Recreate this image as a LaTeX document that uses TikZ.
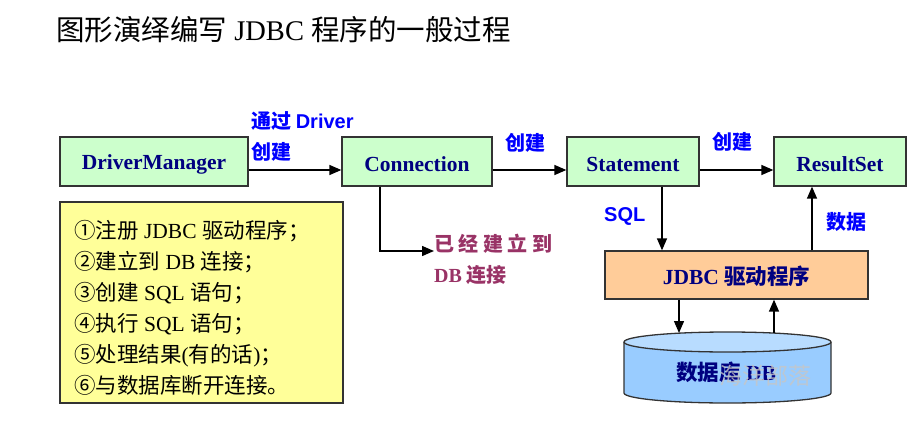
\documentclass[tikz,border=0pt]{standalone}
\usepackage{fontspec}
\setmainfont{Liberation Serif}
\newfontfamily\cjk{Noto Sans CJK SC}
\newfontfamily\lsans{Liberation Sans}
\newcommand\zh[1]{{\cjk #1}}
\usetikzlibrary{arrows.meta}
\definecolor{boxgreen}{HTML}{CCFFCC}
\definecolor{boxtext}{HTML}{000080}
\definecolor{lblblue}{HTML}{0000FF}
\definecolor{estcol}{HTML}{993366}
\definecolor{noteyellow}{HTML}{FFFF99}
\definecolor{drvorange}{HTML}{FFCC99}
\definecolor{dbblue}{HTML}{99CCFF}
\definecolor{dbtop}{HTML}{B8DCFF}
\definecolor{edge}{HTML}{333333}
\tikzset{
  objbox/.style={draw=edge, line width=1.3pt, fill=boxgreen, text=boxtext,
    font=\bfseries\fontsize{21.5}{21.5}\selectfont, minimum height=49pt, inner sep=0pt},
  objtext/.style={inner sep=0pt, text=boxtext, font=\bfseries\fontsize{21.5}{21.5}\selectfont},
  flow/.style={-{Triangle[length=12pt,width=10pt]}, line width=1.4pt},
  lbl/.style={text=lblblue, font=\cjk\bfseries\fontsize{20}{24}\selectfont, inner sep=0pt, anchor=west},
}
\begin{document}
\begin{tikzpicture}[x=1pt,y=-1pt]
\useasboundingbox (0,0) rectangle (912,425);
% title
\node[anchor=west, inner sep=0pt, font=\fontsize{28.5}{28.5}\selectfont] (title) at (56,30)
  {\zh{图形演绎编写} JDBC \zh{程序的一般过程}};
% object boxes
\node[objbox, minimum width=188pt] (dm) at (154,161.5) {};
\node[objbox, minimum width=150pt] (conn) at (417,161.5) {};
\node[objbox, minimum width=132pt] (stmt) at (633,161.5) {};
\node[objbox, minimum width=132pt] (rs) at (840,161.5) {};
\node[objtext] (dmt) at ([yshift=-3pt]dm.center) {DriverManager};
\node[objtext] (connt) at ([yshift=-3pt]conn.center) {Connection};
\node[objtext] (stmtt) at ([yshift=-3pt]stmt.center) {Statement};
\node[objtext] (rst) at ([yshift=-3pt]rs.center) {ResultSet};
% horizontal arrows
\draw[flow] ([yshift=-8.5pt]dm.east) -- ([yshift=-8.5pt]conn.west);
\draw[flow] ([yshift=-8.5pt]conn.east) -- ([yshift=-8.5pt]stmt.west);
\draw[flow] ([yshift=-8.5pt]stmt.east) -- ([yshift=-8.5pt]rs.west);
% labels
\node[lbl] (l1) at (251,121) {通过 {\lsans Driver}};
\node[lbl] (l2) at (251,152) {创建};
\node[lbl] (l3) at (505,143) {创建};
\node[lbl] (l4) at (712,142) {创建};
% connection established
\coordinate (estend) at (434,251);
\draw[flow] ([xshift=-37pt]conn.south) |- (estend);
\node[anchor=west, inner sep=0pt, text=estcol, font=\cjk\bfseries\fontsize{20}{24}\selectfont] (est1) at (434,244)
  {已\kern4.5pt 经\kern4.5pt 建\kern4.5pt 立\kern4.5pt 到};
\node[anchor=west, inner sep=0pt, text=estcol, font=\bfseries\fontsize{20}{24}\selectfont] (est2) at (434,275)
  {DB \zh{连接}};
% note box
\node[draw=edge, line width=1.3pt, fill=noteyellow, minimum width=283pt, minimum height=201pt, inner sep=0pt] (note) at (201.5,302.5) {};
\node[anchor=north west, inner sep=0pt, align=left, font=\fontsize{21.5}{31.1}\selectfont] (notetxt) at (74,220)
  {\zh{①注册} JDBC \zh{驱动程序；}\\
   \zh{②建立到} DB \zh{连接；}\\
   \zh{③创建} SQL \zh{语句；}\\
   \zh{④执行} SQL \zh{语句；}\\
   \zh{⑤处理结果}(\zh{有的话})\zh{；}\\
   \zh{⑥与数据库断开连接。}};
% JDBC driver
\node[draw=edge, line width=1.3pt, fill=drvorange, minimum width=263pt, minimum height=48pt, inner sep=0pt] (jdbc) at (736.5,275) {};
\node[objtext] (jdbct) at ([yshift=-1pt]jdbc.center) {JDBC \zh{驱动程序}};
\draw[flow] ([xshift=29pt]stmt.south) -- ([xshift=29pt]stmt.south |- jdbc.north);
\draw[flow] ([xshift=-28pt]rs.south |- jdbc.north) -- ([xshift=-28pt]rs.south);
\node[anchor=west, inner sep=0pt, text=lblblue, font=\lsans\bfseries\fontsize{20}{24}\selectfont] (sql) at (604,216) {SQL};
\node[lbl] (data) at (826,222) {数据};
% database cylinder
\fill[dbblue] (624,342) -- (624,393) arc[start angle=180, end angle=360, x radius=103.5pt, y radius=10pt] -- (831,342) -- cycle;
\draw[edge, line width=1.3pt] (624,342) -- (624,393) arc[start angle=180, end angle=360, x radius=103.5pt, y radius=10pt] -- (831,342);
\draw[edge, line width=1.3pt, fill=dbtop] (727.5,342) ellipse[x radius=103.5pt, y radius=10pt];
\node[objtext] (db) at (726,372) {\zh{数据库} DB};
\node[inner sep=0pt, text=gray!45, opacity=0.8, font=\cjk\fontsize{23}{23}\selectfont] (wm) at (765,376) {海洋部落};
\coordinate (dbinL) at (679,333);
\coordinate (dbinR) at (774,333);
\draw[flow] ([xshift=-57.5pt]jdbc.south) -- (dbinL);
\draw[flow] (dbinR) -- ([xshift=37.5pt]jdbc.south);
\end{tikzpicture}
\end{document}
